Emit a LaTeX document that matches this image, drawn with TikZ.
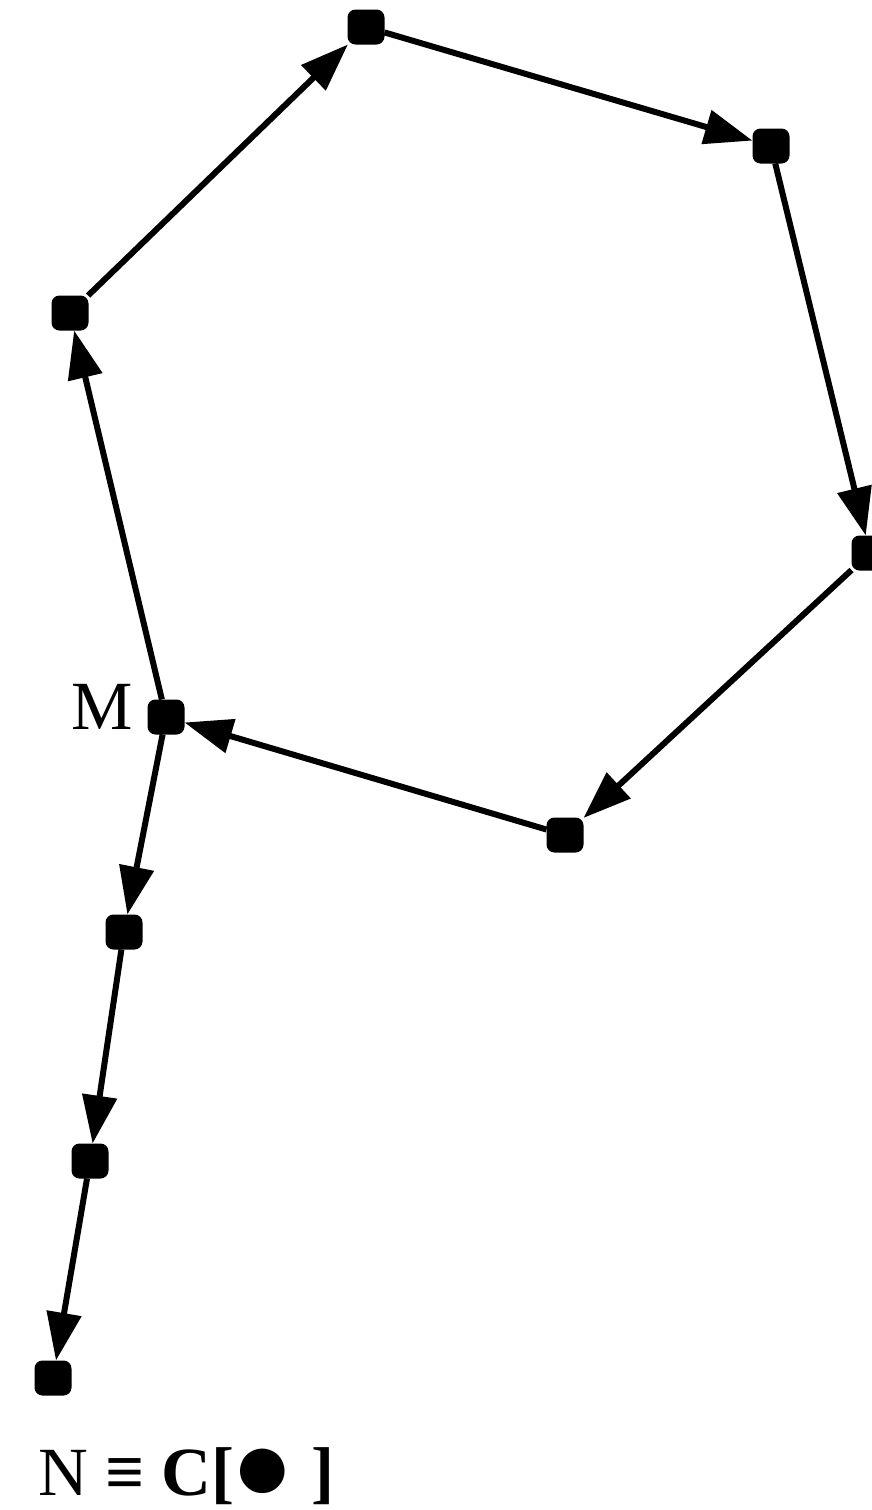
\documentclass[tikz,border=0pt]{standalone}
\usepackage{fontspec}
\setmainfont{Liberation Serif}
\usetikzlibrary{arrows.meta, positioning}

\begin{document}
\begin{tikzpicture}[
    x=1pt, y=-1pt,
    line width=6pt,
    font=\fontsize{69}{80}\selectfont,
    vertice/.style={fill=black, rectangle, rounded corners=8pt, minimum width=37pt, minimum height=35pt, inner sep=0pt, outer sep=0pt},
    seta/.style={-{Triangle[length=48pt, width=34pt]}}
]
    \useasboundingbox (0,0) rectangle (872,1510);

    \node[vertice] (topo) at (366,27) {};
    \node[vertice] (direita) at (771,146) {};
    \node[vertice] (leste) at (870,553) {};
    \node[vertice] (baixo) at (565,835) {};
    \node[vertice] (meio) at (166,717) {};
    \node[vertice] (esquerda) at (70,313) {};
    \node[vertice] (cauda1) at (124,932) {};
    \node[vertice] (cauda2) at (90,1161) {};
    \node[vertice] (fim) at (53,1378) {};

    \node[anchor=base east, inner sep=0pt] (rotulo) at (136,729) {M};
    \node[anchor=base west, inner sep=0pt] (formula) at (35,1495)
        {N \textbf{≡ C[}\kern-3pt\raisebox{-5pt}{\scalebox{1.5}{●}}\textbf{\ ]}};

    \draw[seta] (meio) -- (esquerda);
    \draw[seta] (esquerda) -- (topo);
    \draw[seta] (topo) -- (direita);
    \draw[seta] (direita) -- (leste);
    \draw[seta] (leste) -- (baixo);
    \draw[seta] (baixo) -- (meio);
    \draw[seta] (meio) -- (cauda1);
    \draw[seta] (cauda1) -- (cauda2);
    \draw[seta] (cauda2) -- (fim);
\end{tikzpicture}
\end{document}
